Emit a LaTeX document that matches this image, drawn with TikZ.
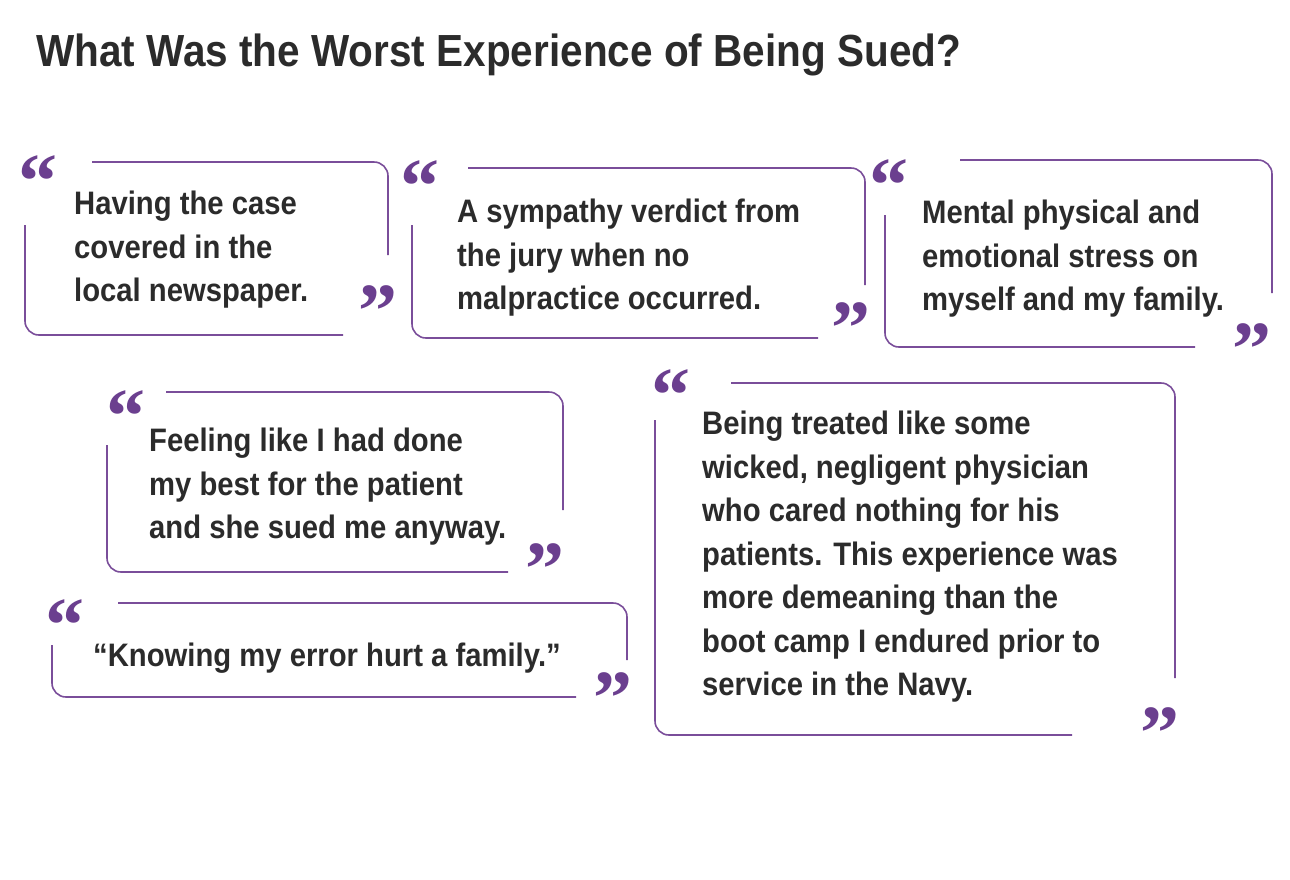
\documentclass[tikz,border=0pt]{standalone}
\usepackage{fontspec}
\setmainfont{Liberation Sans}[FakeStretch=0.9]
\newfontfamily\qfont{Liberation Serif}
\definecolor{qp}{HTML}{6B3F8F}
\definecolor{lp}{HTML}{7A4E9A}
\definecolor{tx}{HTML}{2B2B2B}
\begin{document}
\begin{tikzpicture}[x=1pt,y=-1pt,
 fr/.style={draw=lp,line width=1.6pt,rounded corners=14pt},
 tx/.style={anchor=north west,inner sep=0pt,align=left,text=tx,font=\fontsize{32.5}{43.5}\selectfont\bfseries},
 oq/.style={text=qp,inner sep=0pt,font=\qfont\fontsize{78}{78}\selectfont\bfseries},
 ]
\useasboundingbox (0,0) rectangle (1290,879);
\node[anchor=north west,inner sep=0pt,text=tx,font=\fontsize{45}{45}\selectfont\bfseries] (title) at (36,34) {What Was the Worst Experience of Being Sued?};
% box 1
\draw[fr] (92,162) -- (388,162) -- (388,255);
\draw[fr] (25,225) -- (25,335) -- (343,335);
\node[oq] (o1) at (38,182) {“}; \node[oq] (c1) at (378,312) {”};
\node[tx] (t1) at (74,191) {Having the case\\covered in the\\local newspaper.};
% box 2
\draw[fr] (468,168) -- (865,168) -- (865,285);
\draw[fr] (412,225) -- (412,338) -- (818,338);
\node[oq] (o2) at (420,187) {“}; \node[oq] (c2) at (851,329) {”};
\node[tx] (t2) at (457,199) {A sympathy verdict from\\the jury when no\\malpractice occurred.};
% box 3
\draw[fr] (960,160) -- (1272,160) -- (1272,293);
\draw[fr] (885,215) -- (885,347) -- (1195,347);
\node[oq] (o3) at (889,186) {“}; \node[oq] (c3) at (1252,350) {”};
\node[tx] (t3) at (922,200) {Mental physical and\\emotional stress on\\myself and my family.};
% box 4
\draw[fr] (166,392) -- (563,392) -- (563,510);
\draw[fr] (107,445) -- (107,572) -- (508,572);
\node[oq] (o4) at (126,417) {“}; \node[oq] (c4) at (545,570) {”};
\node[tx] (t4) at (149,428) {Feeling like I had done\\my best for the patient\\and she sued me anyway.};
% box 5
\draw[fr] (118,603) -- (627,603) -- (627,660);
\draw[fr] (52,645) -- (52,697) -- (576,697);
\node[oq] (o5) at (65,626) {“}; \node[oq] (c5) at (613,699) {”};
\node[tx] (t5) at (93,643) {“Knowing my error hurt a family.”};
% box 6
\draw[fr] (731,383) -- (1175,383) -- (1175,678);
\draw[fr] (655,420) -- (655,735) -- (1072,735);
\node[oq] (o6) at (671,396) {“}; \node[oq] (c6) at (1160,734) {”};
\node[tx] (t6) at (702,411) {Being treated like some\\wicked, negligent physician\\who cared nothing for his\\patients. This experience was\\more demeaning than the\\boot camp I endured prior to\\service in the Navy.};
\end{tikzpicture}
\end{document}
